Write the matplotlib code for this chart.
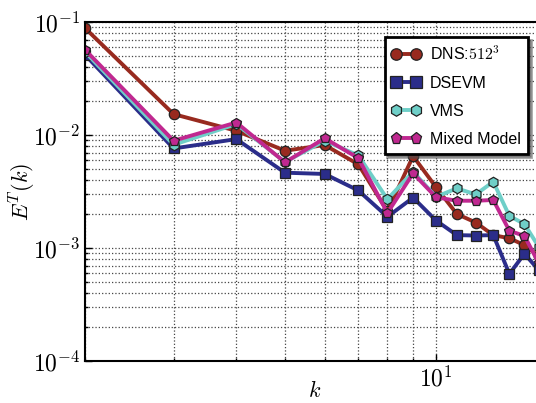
import matplotlib
matplotlib.use("Agg")
import matplotlib.pyplot as plt
from matplotlib.ticker import LogLocator, NullFormatter, FuncFormatter
import numpy as np

plt.rcParams['mathtext.fontset'] = 'cm'
plt.rcParams['font.family'] = ['Liberation Sans', 'DejaVu Sans']

k = [2, 3, 4, 5, 6, 7, 8, 9, 10, 11, 12, 13, 14, 15, 16]

# values
dns = [0.088, 0.0153, 0.0109, 0.00726, 0.00815, 0.0055, 0.00212, 0.0065, 0.00345,
       0.0020, 0.00168, 0.0013, 0.00122, 0.00106, 0.00085]
dsevm = [0.0511, 0.0076, 0.0092, 0.00464, 0.00452, 0.00323, 0.00189, 0.00279, 0.00175,
         0.0013, 0.00129, 0.0013, 0.00059, 0.00089, 0.00064]
vms = [0.0543, 0.0082, 0.0125, 0.00577, 0.0089, 0.0066, 0.0027, 0.00473, 0.00284,
       0.00337, 0.00298, 0.00386, 0.00192, 0.00163, 0.00103]
mixed = [0.0565, 0.0089, 0.0129, 0.00573, 0.00935, 0.00625, 0.00204, 0.00458, 0.00281,
         0.00262, 0.00262, 0.00266, 0.00142, 0.00128, 0.00074]

series = [
    (dns, 'DNS:$512^3$', '#982a1f', 'o'),
    (dsevm, 'DSEVM', '#2b2d8a', 's'),
    (vms, 'VMS', '#6fcfc8', 'h'),
    (mixed, 'Mixed Model', '#c02890', 'p'),
]

fig = plt.figure(figsize=(5.36, 4.03), dpi=100)
ax = fig.add_axes([0.159, 0.1042, 0.8457, 0.8412])

for vals, lab, col, mk in series:
    ax.loglog(k, vals, color=col, lw=2.8, marker=mk, markersize=7.5,
              markerfacecolor=col, markeredgecolor='#222222', markeredgewidth=0.9,
              label=lab)

ax.set_xlim(2, 16)
ax.set_ylim(1e-4, 1e-1)

pow10 = FuncFormatter(lambda v, pos: r'$10^{%d}$' % int(round(np.log10(v))))
ax.xaxis.set_major_locator(LogLocator(base=10))
ax.xaxis.set_minor_locator(LogLocator(base=10, subs=range(2, 10)))
ax.xaxis.set_major_formatter(pow10)
ax.yaxis.set_major_formatter(pow10)
ax.xaxis.set_minor_formatter(NullFormatter())
ax.yaxis.set_minor_formatter(NullFormatter())

ax.grid(True, which='both', linestyle=':', color='#444444', lw=0.9)
ax.tick_params(which='both', direction='in', labelsize=17, width=1)
ax.tick_params(which='major', length=5)
ax.tick_params(which='minor', length=2.5)
ax.tick_params(axis='x', pad=4)
for s in ax.spines.values():
    s.set_linewidth(1.5)

ax.set_xlabel('$k$', fontsize=16)
ax.set_ylabel('$E^T(k)$', fontsize=16)
ax.xaxis.set_label_coords(0.505, -0.06)
ax.yaxis.set_label_coords(-0.104, 0.5)

leg = ax.legend(loc='upper right', bbox_to_anchor=(0.977, 0.956), fontsize=11.5,
                numpoints=2, handlelength=1.8, labelspacing=0.82, fancybox=False,
                shadow=True, framealpha=1, borderpad=0.45, handletextpad=0.6,
                borderaxespad=0, markerscale=1.1)
leg.get_frame().set_edgecolor('black')
leg.get_frame().set_linewidth(2)

fig.savefig('out.png', dpi=100)
